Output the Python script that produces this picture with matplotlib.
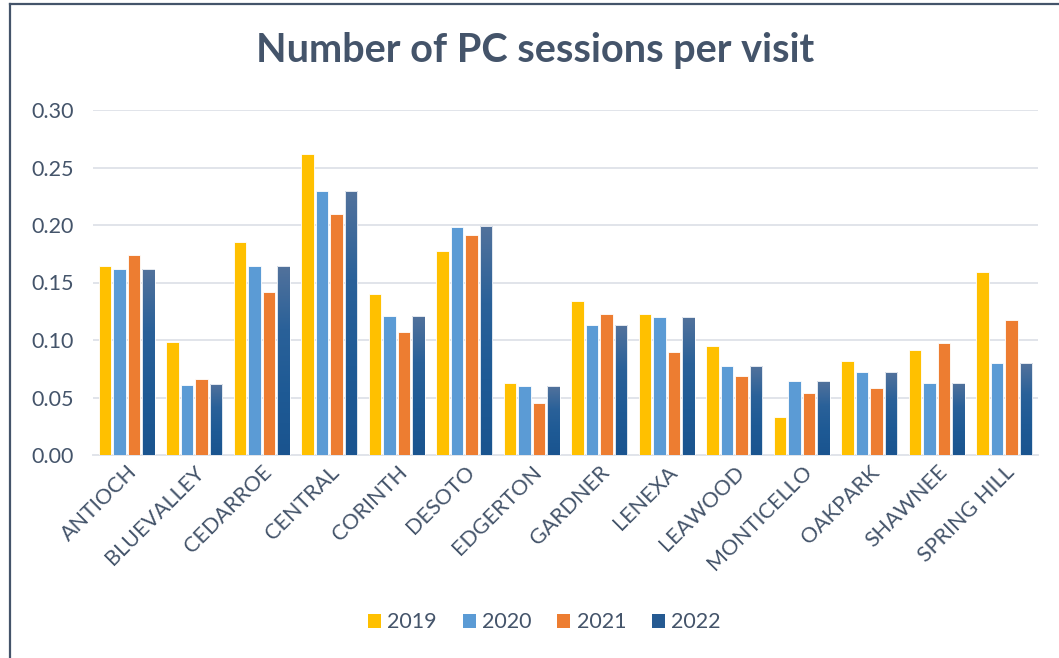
import numpy as np
import matplotlib.pyplot as plt
from matplotlib.lines import Line2D
from matplotlib.patches import Patch
from matplotlib.colors import LinearSegmentedColormap

branches = ["ANTIOCH", "BLUEVALLEY", "CEDARROE", "CENTRAL", "CORINTH", "DESOTO",
            "EDGERTON", "GARDNER", "LENEXA", "LEAWOOD", "MONTICELLO", "OAKPARK",
            "SHAWNEE", "SPRING HILL"]
years = ["2019", "2020", "2021", "2022"]

v2019 = [0.164, 0.098, 0.185, 0.262, 0.140, 0.177, 0.063, 0.134, 0.123, 0.095, 0.033, 0.082, 0.091, 0.159]
v2020 = [0.162, 0.061, 0.164, 0.230, 0.121, 0.198, 0.060, 0.113, 0.120, 0.077, 0.064, 0.072, 0.063, 0.080]
v2021 = [0.174, 0.066, 0.142, 0.210, 0.107, 0.191, 0.045, 0.123, 0.090, 0.069, 0.054, 0.058, 0.097, 0.117]
v2022 = [0.162, 0.062, 0.164, 0.230, 0.121, 0.199, 0.060, 0.113, 0.120, 0.077, 0.064, 0.072, 0.063, 0.080]

TEXT = "#44546A"
colors = ["#FFC000", "#5B9BD5", "#ED7D31", None]
grad = LinearSegmentedColormap.from_list("g22", ["#1A548F", "#1E5A95", "#2A6199", "#52729C"])

plt.rcParams['font.family'] = ['Lato', 'DejaVu Sans']

fig = plt.figure(figsize=(10.59, 6.58), dpi=100)
ax = fig.add_axes([93 / 1059, 203 / 658, 945 / 1059, 345 / 658])

x = np.arange(len(branches))
step = 0.216
width = 0.185
series = [v2019, v2020, v2021, v2022]

for i, vals in enumerate(series):
    pos = x + (i - 1.5) * step
    if colors[i] is not None:
        ax.bar(pos, vals, width, color=colors[i], edgecolor="white", linewidth=0.6, zorder=3)
    else:
        bars = ax.bar(pos, vals, width, color="none", edgecolor="white", linewidth=0.6, zorder=4)
        g = np.linspace(0, 1, 256).reshape(-1, 1)
        for b in bars:
            x0, y0 = b.get_x(), b.get_y()
            im = ax.imshow(g, cmap=grad, aspect="auto", origin="lower",
                           extent=[x0, x0 + b.get_width(), y0, y0 + b.get_height()], zorder=3)
            im.set_clip_path(b)

ax.set_xlim(-0.5, len(branches) - 0.5)
ax.set_ylim(0, 0.30)
ax.set_yticks(np.arange(0, 0.31, 0.05))
ax.set_yticklabels([f"{t:.2f}" for t in np.arange(0, 0.31, 0.05)])
ax.yaxis.grid(True, color="#E1E4EA", linewidth=1.4, zorder=0)
ax.set_axisbelow(True)
for s in ["top", "right", "left"]:
    ax.spines[s].set_visible(False)
ax.spines["bottom"].set_color("#E1E4EA")
ax.spines["bottom"].set_linewidth(1.4)
ax.tick_params(axis="both", length=0, colors=TEXT, labelsize=15.5)
ax.tick_params(axis="y", pad=14)
ax.tick_params(axis="x", pad=5)
ax.set_xticks(x)
ax.set_xticklabels(branches, rotation=45, ha="right", rotation_mode="anchor", color=TEXT)

fig.text(0.505, 0.924, "Number of PC sessions per visit", ha="center", va="center",
         fontsize=28.5, fontweight="bold", color=TEXT)

handles = [Patch(facecolor=c, edgecolor="none") for c in ["#FFC000", "#5B9BD5", "#ED7D31", "#255A92"]]
fig.legend(handles, years, loc="center", bbox_to_anchor=(0.514, 0.054), ncol=4, frameon=False,
           fontsize=15.5, labelcolor=TEXT, handlelength=0.6, handleheight=0.6,
           handletextpad=0.3, columnspacing=1.2)

fig.add_artist(Line2D([10 / 1059, 1], [1 - 4 / 658, 1 - 4 / 658], transform=fig.transFigure,
                      color=TEXT, linewidth=1.6))
fig.add_artist(Line2D([10 / 1059, 10 / 1059], [0, 1 - 4 / 658], transform=fig.transFigure,
                      color=TEXT, linewidth=1.6))

fig.savefig("out.png", dpi=100)
